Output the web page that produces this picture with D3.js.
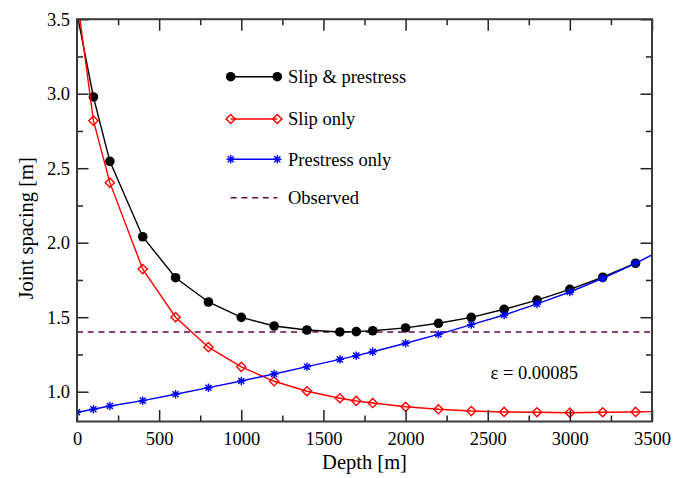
<!DOCTYPE html>
<html>
<head>
<meta charset="utf-8">
<script src="https://cdn.jsdelivr.net/npm/d3@7"></script>
<style>
  html, body { margin: 0; padding: 0; background: #fff; }
  svg { display: block; font-family: "Liberation Serif", "Times New Roman", serif; }
</style>
</head>
<body>
<svg id="chart" width="688" height="478"></svg>
<script>
// ---- Data ----
const depths = [0, 100, 200, 400, 600, 800, 1000, 1200, 1400, 1600, 1700, 1800, 2000, 2200, 2400, 2600, 2800, 3000, 3200, 3400, 3600];
const slipPrestress = [3.54, 2.978, 2.546, 2.040, 1.765, 1.602, 1.499, 1.441, 1.414, 1.401, 1.403, 1.409, 1.428, 1.459, 1.499, 1.553, 1.615, 1.687, 1.768, 1.862, null];
const slipOnly = [3.65, 2.819, 2.403, 1.823, 1.500, 1.299, 1.167, 1.070, 1.003, 0.956, 0.938, 0.924, 0.899, 0.882, 0.870, 0.864, 0.862, 0.859, 0.862, 0.864, 0.868];
const prestressOnly = [0.862, 0.882, 0.904, 0.940, 0.983, 1.027, 1.072, 1.119, 1.168, 1.217, 1.242, 1.268, 1.325, 1.385, 1.450, 1.515, 1.589, 1.669, 1.761, 1.862, 1.975];
const observed = 1.40;
const xTicks = [0, 500, 1000, 1500, 2000, 2500, 3000, 3500];
const yTicks = [1.0, 1.5, 2.0, 2.5, 3.0, 3.5];
const xMinor = [250, 750, 1250, 1750, 2250, 2750, 3250];
const yMinor = [1.25, 1.75, 2.25, 2.75, 3.25];
const seriesNames = ["Slip & prestress", "Slip only", "Prestress only", "Observed"];
const annotation = "\u03b5 = 0.00085";

// ---- Layout ----
const W = 688, H = 478;
const m = { left: 77, right: 36, top: 19.2, bottom: 56.5 };
const svg = d3.select("#chart");
const x = d3.scaleLinear().domain([0, 3500]).range([m.left, W - m.right]);
const y = d3.scaleLinear().domain([0.8, 3.5]).range([H - m.bottom, m.top]);
const FS = 18.5;

svg.append("defs").append("clipPath").attr("id", "clip")
  .append("rect").attr("x", x(0)).attr("y", y(3.5))
  .attr("width", x(3500) - x(0)).attr("height", y(0.8) - y(3.5));

const plot = svg.append("g").attr("clip-path", "url(#clip)");

// Observed dashed line
plot.append("line")
  .attr("x1", x(0)).attr("x2", x(3500))
  .attr("y1", y(observed)).attr("y2", y(observed))
  .attr("stroke", "#670748").attr("stroke-width", 1.5)
  .attr("stroke-dasharray", "6,4.7");

function series(vals) {
  return depths.map((d, i) => ({ x: d, y: vals[i] })).filter(p => p.y != null);
}
const line = d3.line().x(d => x(d.x)).y(d => y(d.y));

// marker drawers
function circle(g, cx, cy) {
  g.append("circle").attr("cx", cx).attr("cy", cy).attr("r", 4.8).attr("fill", "#000");
}
function diamond(g, cx, cy) {
  const s = 4.6;
  g.append("path").attr("d", `M${cx},${cy - s}L${cx + s},${cy}L${cx},${cy + s}L${cx - s},${cy}Z`)
    .attr("fill", "none").attr("stroke", "#ff0000").attr("stroke-width", 1.4);
}
function star(g, cx, cy) {
  const s = 4.2, d = s * 0.72;
  g.append("path")
    .attr("d", `M${cx - s},${cy}L${cx + s},${cy}M${cx},${cy - s}L${cx},${cy + s}M${cx - d},${cy - d}L${cx + d},${cy + d}M${cx - d},${cy + d}L${cx + d},${cy - d}`)
    .attr("stroke", "#0000ff").attr("stroke-width", 1.4).attr("fill", "none");
}

const defs = [
  { vals: slipPrestress, color: "#000000", marker: circle },
  { vals: slipOnly, color: "#ff0000", marker: diamond },
  { vals: prestressOnly, color: "#0000ff", marker: star }
];
defs.forEach(s => {
  const pts = series(s.vals);
  plot.append("path").datum(pts).attr("d", line)
    .attr("fill", "none").attr("stroke", s.color).attr("stroke-width", 1.4);
  const mg = plot.append("g");
  pts.forEach(p => s.marker(mg, x(p.x), y(p.y)));
});

// ---- Axes (ticks inward on all four sides) ----
const frameColor = "#3a3a3a";
const axB = d3.axisBottom(x).tickValues(xTicks).tickSizeInner(-11.5).tickSizeOuter(0).tickPadding(10).tickFormat(d3.format("d"));
const axT = d3.axisTop(x).tickValues(xTicks).tickSizeInner(-11.5).tickSizeOuter(0).tickFormat("");
const axL = d3.axisLeft(y).tickValues(yTicks).tickSizeInner(-11.5).tickSizeOuter(0).tickPadding(7).tickFormat(d3.format(".1f"));
const axR = d3.axisRight(y).tickValues(yTicks).tickSizeInner(-11.5).tickSizeOuter(0).tickFormat("");
const mB = d3.axisBottom(x).tickValues(xMinor).tickSizeInner(-6).tickSizeOuter(0).tickFormat("");
const mT = d3.axisTop(x).tickValues(xMinor).tickSizeInner(-6).tickSizeOuter(0).tickFormat("");
const mL = d3.axisLeft(y).tickValues(yMinor).tickSizeInner(-6).tickSizeOuter(0).tickFormat("");
const mR = d3.axisRight(y).tickValues(yMinor).tickSizeInner(-6).tickSizeOuter(0).tickFormat("");

function addAxis(ax, tr) {
  const g = svg.append("g").attr("transform", tr).call(ax);
  g.select(".domain").remove();
  g.selectAll(".tick line").attr("stroke", "#222").attr("stroke-width", 1.5);
  g.selectAll(".tick text").attr("font-size", FS).attr("font-family", '"Liberation Serif", serif').attr("fill", "#000");
  return g;
}
const yb = y(0.8), yt = y(3.5), xl = x(0), xr = x(3500);
addAxis(axB, `translate(0,${yb})`);
addAxis(axT, `translate(0,${yt})`);
addAxis(axL, `translate(${xl},0)`);
addAxis(axR, `translate(${xr},0)`);
addAxis(mB, `translate(0,${yb})`);
addAxis(mT, `translate(0,${yt})`);
addAxis(mL, `translate(${xl},0)`);
addAxis(mR, `translate(${xr},0)`);

svg.append("rect").attr("x", xl).attr("y", yt).attr("width", xr - xl).attr("height", yb - yt)
  .attr("fill", "none").attr("stroke", frameColor).attr("stroke-width", 2);

// Axis titles
svg.append("text").attr("x", (xl + xr) / 2).attr("y", 469)
  .attr("text-anchor", "middle").attr("font-size", 20.5).text("Depth [m]");
svg.append("text").attr("transform", `translate(33,${(yt + yb) / 2 + 8}) rotate(-90)`)
  .attr("text-anchor", "middle").attr("font-size", 20.5).text("Joint spacing [m]");

// Annotation
svg.append("text").attr("x", 490.5).attr("y", 379).attr("font-size", FS).text(annotation);

// ---- Legend ----
const lg = svg.append("g");
const lx1 = 230.7, lx2 = 277.3, tx = 288;
const rows = [76.7, 119, 159.3, 197.7];
[0, 1, 2].forEach(i => {
  const s = defs[i];
  lg.append("line").attr("x1", lx1).attr("x2", lx2).attr("y1", rows[i]).attr("y2", rows[i])
    .attr("stroke", s.color).attr("stroke-width", 1.4);
  s.marker(lg, lx1, rows[i]);
  s.marker(lg, lx2, rows[i]);
});
lg.append("line").attr("x1", lx1).attr("x2", lx2).attr("y1", rows[3]).attr("y2", rows[3])
  .attr("stroke", "#670748").attr("stroke-width", 1.5).attr("stroke-dasharray", "6,4.7");
seriesNames.forEach((n, i) => {
  lg.append("text").attr("x", tx).attr("y", rows[i] + 6.3).attr("font-size", FS).text(n);
});
</script>
</body>
</html>
